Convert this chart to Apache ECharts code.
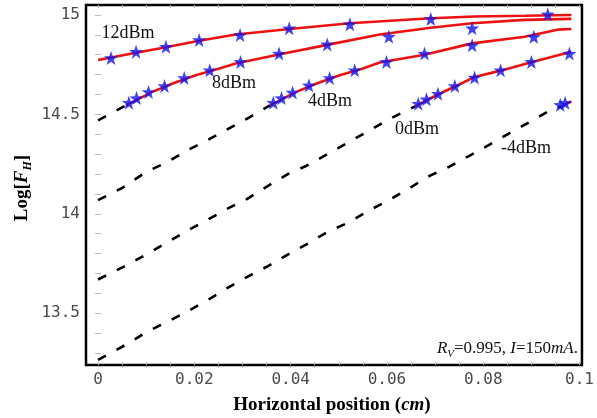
<!DOCTYPE html>
<html>
<head>
<meta charset="utf-8">
<script src="https://cdn.jsdelivr.net/npm/echarts@6/dist/echarts.min.js"></script>
<style>
    html, body { margin: 0; padding: 0; background: #fff; }
    #chartMain { width: 597px; height: 418px; }
</style>
</head>
<body>
<div id="chartMain"></div>
<script>
    // tick labels
    const xTickLabels = [0, 0.02, 0.04, 0.06, 0.08, 0.1];
    const yTickLabels = [13.5, 14, 14.5, 15];

    // theory below threshold (black dashed)
    const dash8 = [[0, 14.47], [0.0058, 14.545]];
    const dash4 = [[0, 14.069], [0.005, 14.13], [0.0101, 14.212], [0.0143, 14.259], [0.0184, 14.318], [0.0226, 14.369],
        [0.0267, 14.423], [0.0309, 14.478], [0.0357, 14.545]];
    const dash0 = [[0, 13.67], [0.0056, 13.737], [0.0098, 13.793], [0.0143, 13.855], [0.0184, 13.914], [0.0226, 13.968],
        [0.0267, 14.024], [0.0309, 14.074], [0.0353, 14.141], [0.0395, 14.201], [0.0433, 14.242], [0.0478, 14.302],
        [0.052, 14.36], [0.0564, 14.419], [0.0606, 14.478], [0.0658, 14.54]];
    const dashM4 = [[0, 13.266], [0.006, 13.345], [0.0101, 13.406], [0.0143, 13.456], [0.0184, 13.507], [0.0226, 13.564],
        [0.0267, 13.625], [0.0309, 13.682], [0.0353, 13.737], [0.0395, 13.796], [0.0433, 13.847], [0.0478, 13.911],
        [0.052, 13.956], [0.0561, 14.015], [0.0602, 14.066], [0.0644, 14.125], [0.0685, 14.187], [0.0727, 14.234],
        [0.0772, 14.293], [0.0813, 14.348], [0.0855, 14.406], [0.0896, 14.461], [0.0941, 14.524], [0.0962, 14.54]];

    // theory above threshold (red)
    const line12 = [[0, 14.773], [0.0079, 14.81], [0.0141, 14.838], [0.021, 14.87], [0.0286, 14.902], [0.0398, 14.929],
        [0.0523, 14.958], [0.0691, 14.983], [0.0782, 14.992], [0.0886, 14.996], [0.0983, 15.0]];
    const line8 = [[0.0058, 14.545], [0.0113, 14.613], [0.0155, 14.655], [0.0203, 14.697], [0.0252, 14.731], [0.0286, 14.756],
        [0.0378, 14.802], [0.0481, 14.852], [0.0585, 14.902], [0.0691, 14.936], [0.0777, 14.958], [0.0886, 14.975], [0.0983, 14.98]];
    const line4 = [[0.0357, 14.545], [0.0412, 14.613], [0.0454, 14.655], [0.0502, 14.697], [0.055, 14.731], [0.0585, 14.761],
        [0.0678, 14.8], [0.0777, 14.857], [0.0886, 14.89], [0.0954, 14.926], [0.0983, 14.929]];
    const line0 = [[0.0658, 14.54], [0.0706, 14.6], [0.0741, 14.64], [0.0782, 14.688], [0.0836, 14.72], [0.09, 14.762], [0.0983, 14.815]];
    const lineM4 = [[0.0962, 14.54], [0.0983, 14.565]];

    // measured points (blue stars)
    const star12 = [[0.0027, 14.784], [0.0079, 14.815], [0.0141, 14.84], [0.021, 14.874], [0.0295, 14.899], [0.0397, 14.933],
        [0.0523, 14.953], [0.0691, 14.98], [0.0934, 15.003]];
    const star8 = [[0.0064, 14.559], [0.008, 14.582], [0.0105, 14.613], [0.0138, 14.643], [0.0179, 14.683], [0.0232, 14.722],
        [0.0296, 14.764], [0.0376, 14.806], [0.0476, 14.852], [0.0604, 14.891], [0.0777, 14.933]];
    const star4 = [[0.0364, 14.559], [0.0381, 14.582], [0.0404, 14.61], [0.0438, 14.646], [0.0481, 14.683], [0.0533, 14.722],
        [0.0599, 14.764], [0.0678, 14.806], [0.0777, 14.848], [0.0905, 14.89]];
    const star0 = [[0.0665, 14.554], [0.0682, 14.576], [0.0706, 14.604], [0.0741, 14.643], [0.0782, 14.686], [0.0836, 14.722],
        [0.09, 14.764], [0.0979, 14.806]];
    const starM4 = [[0.096, 14.548], [0.097, 14.558]];

    const STAR = 'path://M0,-10L2.35,-3.24L9.51,-3.09L3.8,1.24L5.88,8.09L0,4L-5.88,8.09L-3.8,1.24L-9.51,-3.09L-2.35,-3.24Z';
    const serif = 'Liberation Serif';

    let xMinor = [];
    for (let i = 0; i <= 20; i++) xMinor.push(+(i * 0.005).toFixed(3));
    let yMinor = [];
    for (let i = 133; i <= 150; i++) yMinor.push(i / 10);

    function fmt(v) { return String(+(+v).toFixed(3)); }

    function xAx(pos, labels) {
        return {
            type: 'value', position: pos, min: -0.0025, max: 0.1005,
            splitLine: { show: false },
            axisLine: { show: false },
            axisTick: { inside: true, length: 3, customValues: xMinor, lineStyle: { color: '#bbb' } },
            axisLabel: {
                show: labels, customValues: xTickLabels, formatter: fmt, margin: 7,
                fontFamily: 'DejaVu Sans Mono', fontSize: 16, color: '#4a4a4a'
            }
        };
    }
    function yAx(pos, labels) {
        return {
            type: 'value', position: pos, min: 13.24, max: 15.05,
            splitLine: { show: false },
            axisLine: { show: false },
            axisTick: { inside: true, length: 3, customValues: yMinor, lineStyle: { color: '#bbb' } },
            axisLabel: {
                show: labels, customValues: yTickLabels, formatter: fmt, margin: 6,
                fontFamily: 'DejaVu Sans Mono', fontSize: 16, color: '#4a4a4a'
            }
        };
    }

    function dashed(data) {
        return { type: 'line', data: data, symbol: 'none', z: 2, silent: true,
            lineStyle: { color: '#000', width: 2.6, type: [9, 12] } };
    }
    function red(data) {
        return { type: 'line', data: data, symbol: 'none', z: 3, silent: true,
            lineStyle: { color: '#ee1111', width: 2.6 } };
    }
    function stars(data) {
        return { type: 'scatter', data: data, symbol: STAR, symbolSize: 14, z: 4, silent: true,
            itemStyle: { color: '#1212ee' } };
    }

    function note(txt, x, y) {
        return { type: 'text', x: x, y: y, style: { text: txt, font: '18px "' + serif + '"', fill: '#111', align: 'center', verticalAlign: 'middle' } };
    }

    const chartMain = echarts.init(document.getElementById('chartMain'));
    chartMain.setOption({
        animation: false,
        grid: { left: 86, right: 14, top: 5, bottom: 53, show: true, borderColor: '#000', borderWidth: 2.5 },
        xAxis: [xAx('bottom', true), xAx('top', false)],
        yAxis: [yAx('left', true), yAx('right', false)],
        series: [
            dashed(dash8), dashed(dash4), dashed(dash0), dashed(dashM4),
            red(line12), red(line8), red(line4), red(line0), red(lineM4),
            stars(star12), stars(star8), stars(star4), stars(star0), stars(starM4)
        ],
        graphic: [
            note('12dBm', 128, 33),
            note('8dBm', 234, 83),
            note('4dBm', 330, 101),
            note('0dBm', 417, 129),
            note('-4dBm', 526, 148),
            {
                type: 'text', x: 578, y: 349,
                style: {
                    text: '{i|R}{s|V}{n|=0.995, }{i|I}{n|=150}{i|mA}{n|.}',
                    align: 'right', verticalAlign: 'middle', fill: '#111',
                    rich: {
                        i: { fontFamily: serif, fontStyle: 'italic', fontSize: 17, lineHeight: 22 },
                        n: { fontFamily: serif, fontSize: 17, lineHeight: 22 },
                        s: { fontFamily: serif, fontStyle: 'italic', fontSize: 11, lineHeight: 12, verticalAlign: 'bottom' }
                    }
                }
            },
            {
                type: 'text', x: 332, y: 405,
                style: {
                    text: '{b|Horizontal position (}{bi|cm}{b|)}',
                    align: 'center', verticalAlign: 'middle', fill: '#000',
                    rich: {
                        b: { fontFamily: serif, fontWeight: 'bold', fontSize: 19 },
                        bi: { fontFamily: serif, fontWeight: 'bold', fontStyle: 'italic', fontSize: 19 }
                    }
                }
            },
            {
                type: 'text', x: 22, y: 188, rotation: Math.PI / 2,
                style: {
                    text: '{b|Log[}{bi|F}{bs|H}{b|]}',
                    align: 'center', verticalAlign: 'middle', fill: '#000',
                    rich: {
                        b: { fontFamily: serif, fontWeight: 'bold', fontSize: 19, lineHeight: 24 },
                        bi: { fontFamily: serif, fontWeight: 'bold', fontStyle: 'italic', fontSize: 19, lineHeight: 24 },
                        bs: { fontFamily: serif, fontWeight: 'bold', fontStyle: 'italic', fontSize: 12, lineHeight: 12, verticalAlign: 'bottom' }
                    }
                }
            }
        ]
    });
</script>
</body>
</html>
